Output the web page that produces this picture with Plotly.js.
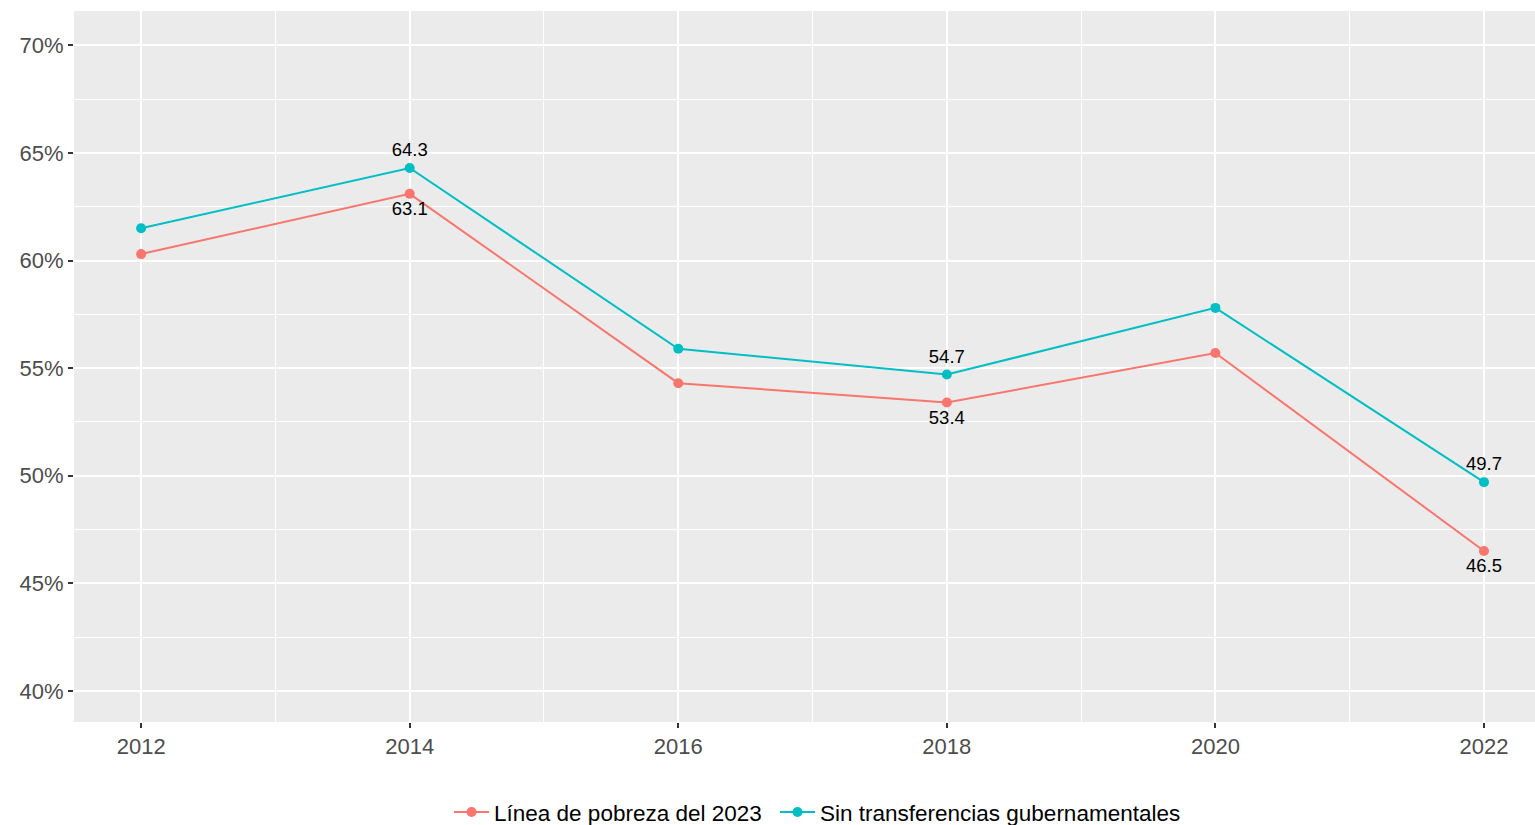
<!DOCTYPE html>
<html>
<head>
<meta charset="utf-8">
<script src="https://cdn.plot.ly/plotly-3.0.1.min.js"></script>
<style>html,body{margin:0;padding:0;background:#fff;}#chart{width:1535px;height:825px;}</style>
</head>
<body>
<div id="chart"></div>
<script>
const years = [2012, 2014, 2016, 2018, 2020, 2022];
const pobreza2023 = [60.3, 63.1, 54.3, 53.4, 55.7, 46.5];
const sinTransferencias = [61.5, 64.3, 55.9, 54.7, 57.8, 49.7];
const labelYears = [2014, 2018, 2022];
const seriesNames = ["Línea de pobreza del 2023", "Sin transferencias gubernamentales"];
const yTickVals = [40, 45, 50, 55, 60, 65, 70];
const yTickText = yTickVals.map(v => v + "%");

function labels(vals){ return years.map((y,i)=> labelYears.includes(y) ? vals[i].toFixed(1) : ""); }

const traces = [
  {x: years, y: pobreza2023, name: seriesNames[0], type: 'scatter', mode: 'lines+markers+text',
   legend: 'legend',
   line: {color: '#F8766D', width: 2}, marker: {color: '#F8766D', size: 10},
   text: labels(pobreza2023), textposition: 'bottom center',
   textfont: {family: 'Liberation Sans, Arial, sans-serif', size: 18.5, color: '#000'}, cliponaxis: false},
  {x: years, y: sinTransferencias, name: seriesNames[1], type: 'scatter', mode: 'lines+markers+text',
   legend: 'legend2',
   line: {color: '#00BFC4', width: 2}, marker: {color: '#00BFC4', size: 10},
   text: labels(sinTransferencias), textposition: 'top center',
   textfont: {family: 'Liberation Sans, Arial, sans-serif', size: 18.5, color: '#000'}, cliponaxis: false}
];

const legendBase = {orientation: 'h', xanchor: 'left', y: -0.127, yanchor: 'middle',
  font: {size: 22.5, color: '#000'}, itemwidth: 35, bgcolor: 'rgba(0,0,0,0)'};

const layout = {
  width: 1535, height: 825,
  margin: {l: 74, r: 0, t: 11, b: 103, autoexpand: false},
  paper_bgcolor: '#fff', plot_bgcolor: '#EBEBEB',
  font: {family: 'Liberation Sans, Arial, sans-serif', size: 22, color: '#4D4D4D'},
  showlegend: true,
  legend: Object.assign({}, legendBase, {x: 0.2567}),
  legend2: Object.assign({}, legendBase, {x: 0.4798}),
  xaxis: {range: [2011.5, 2022.38], tickvals: years, ticktext: years.map(String),
          showgrid: true, gridcolor: '#fff', gridwidth: 2, zeroline: false,
          ticks: 'outside', ticklen: 5, tickcolor: '#333', tickwidth: 1.5,
          tickfont: {size: 22, color: '#4D4D4D'},
          minor: {dtick: 1, tick0: 2013, showgrid: true, gridcolor: '#fff', gridwidth: 1, ticks: ''}},
  yaxis: {range: [38.55, 71.6], tickvals: yTickVals, ticktext: yTickText,
          showgrid: true, gridcolor: '#fff', gridwidth: 2, zeroline: false,
          ticks: 'outside', ticklen: 5, tickcolor: '#333', tickwidth: 1.5,
          tickfont: {size: 22, color: '#4D4D4D'},
          minor: {dtick: 2.5, tick0: 42.5, showgrid: true, gridcolor: '#fff', gridwidth: 1, ticks: ''}}
};

Plotly.newPlot('chart', traces, layout, {displayModeBar: false});
</script>
</body>
</html>
